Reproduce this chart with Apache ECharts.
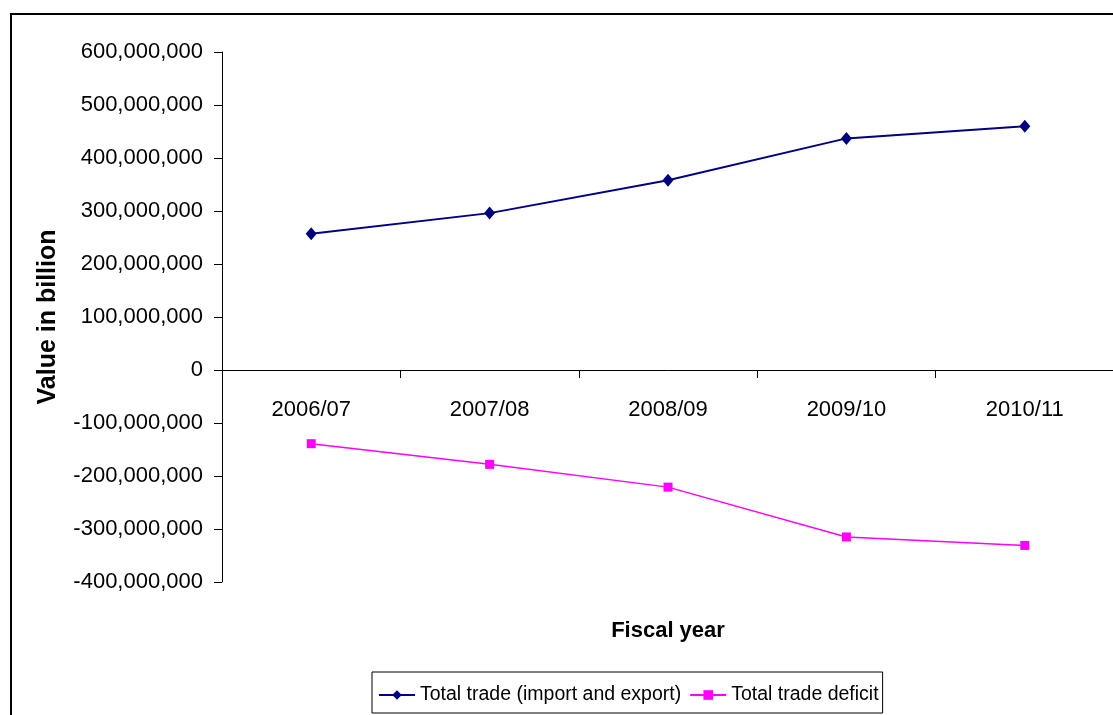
<!DOCTYPE html>
<html>
<head>
<meta charset="utf-8">
<script src="https://cdn.jsdelivr.net/npm/echarts@6/dist/echarts.min.js"></script>
<style>
  html, body { margin: 0; padding: 0; background: #fff; }
  #chart { width: 1113px; height: 715px; }
</style>
</head>
<body>
<div id="chart"></div>
<script>
// Fiscal years on the category axis
const fiscalYears = ['2006/07', '2007/08', '2008/09', '2009/10', '2010/11'];

// Total trade (import and export)
const totalTrade = [257000000, 296000000, 358000000, 437000000, 460000000];

// Total trade deficit
const tradeDeficit = [-139000000, -178000000, -221000000, -315000000, -331000000];

// Value axis range
const valueMin = -400000000;
const valueMax = 600000000;
const valueStep = 100000000;

const FONT = 'Liberation Sans, Arial, sans-serif';

const chart = echarts.init(document.getElementById('chart'), null, { renderer: 'canvas' });

const fmt = v => {
  const s = Math.abs(v).toString().replace(/\B(?=(\d{3})+(?!\d))/g, ',');
  return (v < 0 ? '-' : '') + s;
};

chart.setOption({
  backgroundColor: '#fff',
  animation: false,
  textStyle: { fontFamily: FONT },
  graphic: [{
    type: 'rect',
    shape: { x: 11, y: 14, width: 1120, height: 720 },
    style: { fill: 'none', stroke: '#000', lineWidth: 2 },
    silent: true,
    z: 0
  }],
  grid: { left: 222, top: 52, width: 892, height: 530, containLabel: false, outerBoundsMode: 'none' },
  legend: {
    left: 372,
    top: 672,
    padding: [13, 4, 8, 6],
    borderColor: '#000',
    borderWidth: 1,
    itemWidth: 36,
    itemHeight: 12,
    itemGap: 8,
    textStyle: { fontFamily: FONT, fontSize: 19.5, color: '#000' },
    data: ['Total trade (import and export)', 'Total trade deficit']
  },
  xAxis: {
    type: 'category',
    data: fiscalYears,
    boundaryGap: true,
    name: 'Fiscal year',
    nameLocation: 'middle',
    nameGap: 38,
    nameTextStyle: { fontFamily: FONT, fontSize: 22, fontWeight: 'bold', color: '#000' },
    axisLine: { onZero: true, lineStyle: { color: '#000', width: 1 } },
    axisTick: { show: true, length: 8, inside: false, lineStyle: { color: '#000' } },
    axisLabel: { margin: -183, fontFamily: FONT, fontSize: 22, color: '#000' },
    splitLine: { show: false }
  },
  yAxis: {
    type: 'value',
    min: valueMin,
    max: valueMax,
    interval: valueStep,
    name: 'Value in billion',
    nameLocation: 'middle',
    nameRotate: 90,
    nameGap: 161,
    nameTextStyle: { fontFamily: FONT, fontSize: 25, fontWeight: 'bold', color: '#000' },
    axisLine: { show: true, lineStyle: { color: '#000', width: 1 } },
    axisTick: { show: true, length: 8, inside: false, lineStyle: { color: '#000' } },
    axisLabel: { margin: 19, fontFamily: FONT, fontSize: 22, color: '#000', formatter: fmt },
    splitLine: { show: false }
  },
  series: [
    {
      name: 'Total trade (import and export)',
      type: 'line',
      data: totalTrade,
      symbol: 'diamond',
      symbolSize: [11, 13],
      color: '#000080',
      lineStyle: { color: '#000080', width: 2 },
      itemStyle: { color: '#000080' },
      z: 3
    },
    {
      name: 'Total trade deficit',
      type: 'line',
      data: tradeDeficit,
      symbol: 'rect',
      symbolSize: 9,
      color: '#FF00FF',
      lineStyle: { color: '#FF00FF', width: 1.5 },
      itemStyle: { color: '#FF00FF' },
      z: 3
    }
  ]
});
</script>
</body>
</html>
